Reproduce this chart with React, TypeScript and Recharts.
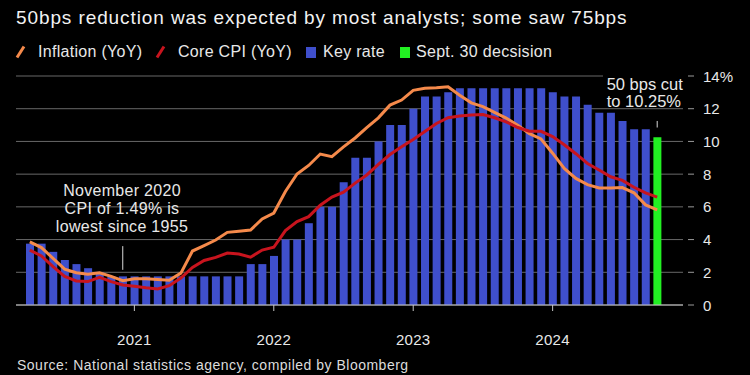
import { ComposedChart, Bar, Line, XAxis, YAxis, CartesianGrid, ReferenceLine, Cell } from 'recharts';

// month-end observations, Mar 2020 .. Sep 2024
const months = [
  'Mar 2020', 'Apr 2020', 'May 2020', 'Jun 2020', 'Jul 2020', 'Aug 2020', 'Sep 2020', 'Oct 2020', 'Nov 2020', 'Dec 2020',
  'Jan 2021', 'Feb 2021', 'Mar 2021', 'Apr 2021', 'May 2021', 'Jun 2021', 'Jul 2021', 'Aug 2021', 'Sep 2021', 'Oct 2021', 'Nov 2021', 'Dec 2021',
  'Jan 2022', 'Feb 2022', 'Mar 2022', 'Apr 2022', 'May 2022', 'Jun 2022', 'Jul 2022', 'Aug 2022', 'Sep 2022', 'Oct 2022', 'Nov 2022', 'Dec 2022',
  'Jan 2023', 'Feb 2023', 'Mar 2023', 'Apr 2023', 'May 2023', 'Jun 2023', 'Jul 2023', 'Aug 2023', 'Sep 2023', 'Oct 2023', 'Nov 2023', 'Dec 2023',
  'Jan 2024', 'Feb 2024', 'Mar 2024', 'Apr 2024', 'May 2024', 'Jun 2024', 'Jul 2024', 'Aug 2024', 'Sep 2024',
];

const keyRate = [
  3.75, 3.75, 3.25, 2.75, 2.5, 2.25, 2.0, 1.75, 1.75, 1.75,
  1.75, 1.75, 1.75, 1.75, 1.75, 1.75, 1.75, 1.75, 1.75, 2.5, 2.5, 3.0,
  4.0, 4.0, 5.0, 6.0, 6.0, 7.5, 9.0, 9.0, 10.0, 11.0, 11.0, 12.0,
  12.75, 12.75, 13.0, 13.25, 13.25, 13.25, 13.25, 13.25, 13.25, 13.25, 13.25, 13.0,
  12.75, 12.75, 12.25, 11.75, 11.75, 11.25, 10.75, 10.75, 10.25,
];

const inflation = [
  3.86, 3.51, 2.85, 2.19, 1.97, 1.88, 1.97, 1.75, 1.49, 1.61,
  1.6, 1.56, 1.51, 1.95, 3.3, 3.63, 3.97, 4.44, 4.51, 4.58, 5.26, 5.62,
  6.94, 8.01, 8.53, 9.23, 9.07, 9.67, 10.21, 10.84, 11.44, 12.22, 12.53, 13.12,
  13.25, 13.28, 13.34, 12.82, 12.36, 12.13, 11.78, 11.43, 10.99, 10.48, 10.15, 9.28,
  8.35, 7.74, 7.36, 7.16, 7.16, 7.18, 6.86, 6.12, 5.81,
];

const coreCpi = [
  3.36, 3.0, 2.35, 1.75, 1.47, 1.43, 1.69, 1.43, 1.22, 1.14,
  1.05, 0.98, 1.18, 1.65, 2.3, 2.72, 2.91, 3.18, 3.12, 2.92, 3.36, 3.53,
  4.55, 5.1, 5.4, 6.1, 6.6, 6.9, 7.45, 7.95, 8.6, 9.2, 9.68, 10.12,
  10.6, 11.1, 11.45, 11.55, 11.62, 11.65, 11.45, 11.2, 10.85, 10.62, 10.62, 10.3,
  9.8, 9.25, 8.65, 8.25, 7.84, 7.62, 7.2, 6.85, 6.6,
];

const yearTicks = ['Dec 2020', 'Dec 2021', 'Dec 2022', 'Dec 2023'];
const yearLabels = ['2021', '2022', '2023', '2024'];
const rateTicks = [0, 2, 4, 6, 8, 10, 12, 14];

const data = months.map((month, i) => ({
  month,
  keyRate: keyRate[i],
  inflation: inflation[i],
  core: coreCpi[i],
}));

const FONT = '"Liberation Sans", Arial, Helvetica, sans-serif';
const BLUE = '#3f4fcc';
const GREEN = '#22f022';
const ORANGE = '#f58a4b';
const RED = '#c8141e';
const TEXT = '#e8e8e8';

function YearTick({ x, y, payload }: any) {
  const idx = yearTicks.indexOf(payload.value);
  if (idx < 0) return <g />;
  return (
    <g>
      <line x1={x} x2={x} y1={y} y2={y + 6} stroke="#c8c8c8" strokeWidth={1} />
      <text x={x} y={y + 40} textAnchor="middle" fill={TEXT} fontSize={15} letterSpacing={0.3} fontFamily={FONT}>
        {yearLabels[idx]}
      </text>
    </g>
  );
}

function RateTick({ x, y, payload }: any) {
  return (
    <g>
      <line x1={x + 5} x2={x + 11} y1={y} y2={y} stroke="#9a9a9a" strokeWidth={1} />
      <text x={x + 20} y={y} dominantBaseline="central" fill={TEXT} fontSize={15} fontFamily={FONT}>
        {payload.value === 14 ? '14%' : payload.value}
      </text>
    </g>
  );
}

const slash = (left: number, color: string) => (
  <svg style={{ position: 'absolute', left, top: 45, overflow: 'visible' }} width={10} height={14}>
    <line x1={1} y1={12.5} x2={8} y2={1.5} stroke={color} strokeWidth={3} />
  </svg>
);

const square = (left: number, color: string) => (
  <div style={{ position: 'absolute', left, top: 46.5, width: 10, height: 11, background: color }} />
);

const legendText = (left: number, label: string) => (
  <div style={{ position: 'absolute', left, top: 43.8, fontSize: 16, lineHeight: '16px', letterSpacing: 0.3, color: TEXT, whiteSpace: 'nowrap' }}>
    {label}
  </div>
);

export default function App() {
  return (
    <div style={{ position: 'absolute', left: 0, top: 0, width: 750, height: 375, background: '#000', overflow: 'hidden', fontFamily: FONT }}>
      <div style={{ position: 'absolute', left: 16, top: 8, fontSize: 19, lineHeight: '19px', letterSpacing: 0.9, color: '#f2f2f2', whiteSpace: 'nowrap' }}>
        50bps reduction was expected by most analysts; some saw 75bps
      </div>

      {/* Legend */}
      {slash(16, ORANGE)}
      {legendText(38, 'Inflation (YoY)')}
      {slash(156, RED)}
      {legendText(178, 'Core CPI (YoY)')}
      {square(306, BLUE)}
      {legendText(323, 'Key rate')}
      {square(400, GREEN)}
      {legendText(416, 'Sept. 30 decsision')}

      <div style={{ position: 'absolute', left: 0, top: 0 }}>
        <ComposedChart width={750} height={360} data={data} margin={{ top: 76, right: 0, bottom: 15, left: 16 }}>
          <CartesianGrid vertical={false} stroke="#686868" strokeWidth={1} />
          <XAxis
            dataKey="month"
            interval={0}
            padding={{ left: 8, right: 20 }}
            height={40}
            tickSize={0}
            tickMargin={0}
            tickLine={false}
            axisLine={{ stroke: '#c8c8c8', strokeWidth: 1 }}
            tick={<YearTick />}
          />
          <YAxis
            orientation="right"
            width={67}
            domain={[0, 14]}
            ticks={rateTicks}
            interval={0}
            tickSize={0}
            tickMargin={0}
            tickLine={false}
            axisLine={false}
            tick={<RateTick />}
          />
          <Bar dataKey="keyRate" barSize={8} isAnimationActive={false}>
            {data.map((_, i) => (
              <Cell key={i} fill={i === data.length - 1 ? GREEN : BLUE} />
            ))}
          </Bar>
          <Line type="linear" dataKey="inflation" stroke={ORANGE} strokeWidth={3} dot={false} isAnimationActive={false} />
          <Line type="linear" dataKey="core" stroke={RED} strokeWidth={3} dot={false} isAnimationActive={false} />
          <ReferenceLine segment={[{ x: 'Nov 2020', y: 2.15 }, { x: 'Nov 2020', y: 3.6 }]} stroke="#d8d8d8" strokeWidth={1} />
          <ReferenceLine segment={[{ x: 'Sep 2024', y: 10.85 }, { x: 'Sep 2024', y: 11.25 }]} stroke="#d8d8d8" strokeWidth={1} />
        </ComposedChart>
      </div>

      {/* Annotations */}
      <div style={{ position: 'absolute', left: 22, top: 182.2, width: 200, textAlign: 'center', fontSize: 16, lineHeight: '18px', letterSpacing: 0.3, color: TEXT }}>
        November 2020
        <br />
        CPI of 1.49% is
        <br />
        lowest since 1955
      </div>
      <div style={{ position: 'absolute', left: 603, top: 72, width: 82, height: 35, paddingLeft: 3.7, paddingTop: 3.8, boxSizing: 'border-box', background: '#000', fontSize: 16.5, lineHeight: '16.7px', color: TEXT, whiteSpace: 'nowrap' }}>
        50 bps cut
        <br />
        to 10.25%
      </div>

      <div style={{ position: 'absolute', left: 17, top: 357.5, fontSize: 14, lineHeight: '14px', letterSpacing: 0.5, color: '#dcdcdc', whiteSpace: 'nowrap' }}>
        Source: National statistics agency, compiled by Bloomberg
      </div>
    </div>
  );
}
